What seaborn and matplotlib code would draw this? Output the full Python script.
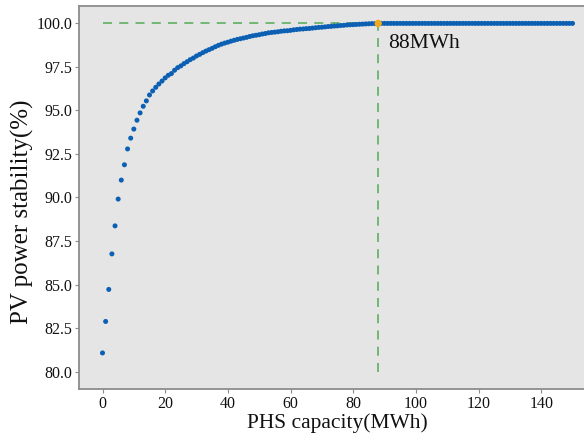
import numpy as np
import pandas as pd
import matplotlib
matplotlib.use("Agg")
import matplotlib.pyplot as plt
import seaborn as sns

capacity = list(range(0, 151))
stability = [
    81.07, 82.88, 84.72, 86.76, 88.37, 89.91, 91.00, 91.88, 92.79, 93.41,
    93.93, 94.44, 94.86, 95.24, 95.55, 95.89, 96.12, 96.33, 96.52, 96.69,
    96.87, 97.02, 97.12, 97.31, 97.46, 97.56, 97.69, 97.80, 97.92, 98.01,
    98.13, 98.22, 98.32, 98.41, 98.49, 98.57, 98.66, 98.74, 98.81, 98.87,
    98.92, 98.98, 99.03, 99.08, 99.12, 99.16, 99.20, 99.25, 99.29, 99.32,
    99.35, 99.39, 99.42, 99.46, 99.48, 99.50, 99.52, 99.55, 99.57, 99.58,
    99.60, 99.63, 99.65, 99.67, 99.68, 99.70, 99.71, 99.73, 99.75, 99.77,
    99.78, 99.80, 99.82, 99.83, 99.85, 99.86, 99.88, 99.89, 99.91, 99.92,
    99.93, 99.94, 99.95, 99.96, 99.97, 99.98, 99.99, 99.99, 100.0, 100.0,
    100.0, 100.0, 100.0, 100.0, 100.0, 100.0, 100.0, 100.0, 100.0, 100.0,
    100.0, 100.0, 100.0, 100.0, 100.0, 100.0, 100.0, 100.0, 100.0, 100.0,
    100.0, 100.0, 100.0, 100.0, 100.0, 100.0, 100.0, 100.0, 100.0, 100.0,
    100.0, 100.0, 100.0, 100.0, 100.0, 100.0, 100.0, 100.0, 100.0, 100.0,
    100.0, 100.0, 100.0, 100.0, 100.0, 100.0, 100.0, 100.0, 100.0, 100.0,
    100.0, 100.0, 100.0, 100.0, 100.0, 100.0, 100.0, 100.0, 100.0, 100.0,
    100.0,
]
opt_capacity = 88
opt_stability = 100.0
opt_label = "88MWh"
x_label = "PHS capacity(MWh)"
y_label = "PV power stability(%)"
x_ticks = [0, 20, 40, 60, 80, 100, 120, 140]
y_ticks = [80.0, 82.5, 85.0, 87.5, 90.0, 92.5, 95.0, 97.5, 100.0]

df = pd.DataFrame({"capacity": capacity, "stability": stability})

sns.set_style("white", {"axes.facecolor": "#e5e5e5", "axes.edgecolor": "#8c8c8c"})
plt.rcParams["font.family"] = ["Liberation Serif", "DejaVu Serif"]

fig = plt.figure(figsize=(5.84, 4.38), dpi=100)
ax = fig.add_axes([79 / 584, 49 / 438, 517 / 584, 383 / 438])

# dashed guide lines
ax.plot([0, opt_capacity], [opt_stability, opt_stability], ls=(0, (5, 4)),
        color="#6ab36a", lw=1.3, zorder=1)
ax.plot([opt_capacity, opt_capacity], [80.0, opt_stability], ls=(0, (5, 4)),
        color="#6ab36a", lw=1.3, zorder=1)

sns.scatterplot(data=df, x="capacity", y="stability", ax=ax, s=13,
                color="#0b60b4", edgecolor="none", linewidth=0, zorder=3)
ax.scatter([opt_capacity], [opt_stability], s=28, color="#f0a81c",
           edgecolor="none", zorder=4)
ax.text(opt_capacity + 3, 98.57, opt_label, fontsize=15.5, color="#111111",
        ha="left", va="baseline")

ax.set_xlim(-7.5, 157.5)
ax.set_ylim(79.0, 101.0)
ax.set_xticks(x_ticks)
ax.set_yticks(y_ticks)
ax.set_yticklabels([f"{v:.1f}" for v in y_ticks])
ax.set_xlabel(x_label, fontsize=15.5, color="#111111", labelpad=1)
ax.set_ylabel(y_label, fontsize=18, color="#111111")
ax.yaxis.set_label_coords(-0.088, 0.462)
ax.tick_params(axis="both", labelsize=11.5, colors="#111111", length=3,
               width=0.8, color="#8c8c8c", bottom=True, left=True, pad=2)
for s in ax.spines.values():
    s.set_linewidth(1.3)
    s.set_color("#8c8c8c")

fig.savefig("out.png", dpi=100)
